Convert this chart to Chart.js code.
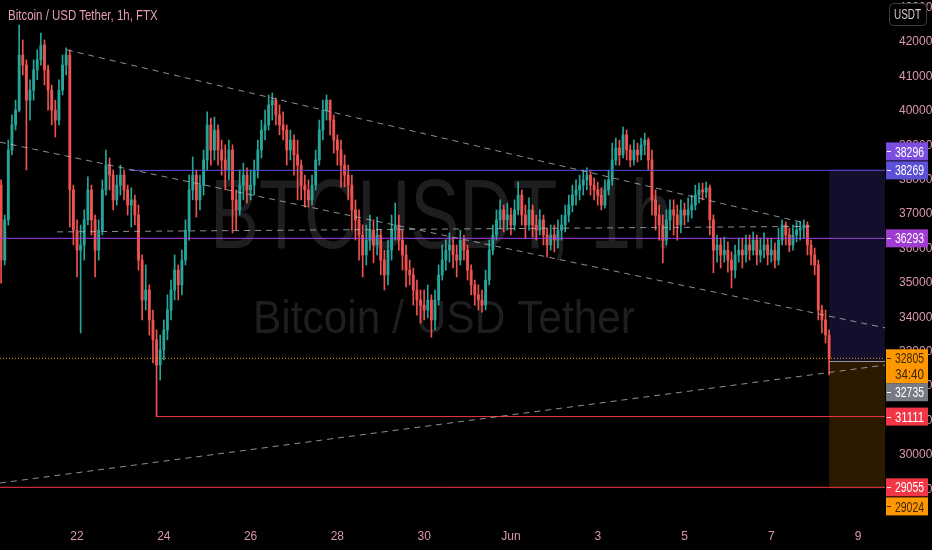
<!DOCTYPE html>
<html>
<head>
<meta charset="utf-8">
<script src="https://cdn.jsdelivr.net/npm/chart.js@4.4.1/dist/chart.umd.min.js"></script>
<style>
  html, body { margin: 0; padding: 0; background: #000; }
  #wrap { position: relative; width: 932px; height: 550px; }
  #title {
    position: absolute; left: 8px; top: 7px;
    font: 14px 'Liberation Sans Narrow', 'Liberation Sans', sans-serif;
    color: #e59cba;
    transform: scaleX(0.82); transform-origin: left top;
    white-space: nowrap;
  }
</style>
</head>
<body>
<div id="wrap">
  <canvas id="chart" width="932" height="550"></canvas>
  <div id="title">Bitcoin / USD Tether, 1h, FTX</div>
</div>
<script>
// time is counted in hours from May 20 00:00, one candle every 2 hours
const startHour = 6;
const stepHours = 2;
const firstOpen = 37840;

const closes = [
  35660, 36830, 38860, 39590, 40020, 41620, 41330, 40310, 40600, 41190,
  41480, 41910, 41190, 40600, 40020, 39730, 40600, 41330, 41620, 37700,
  36530, 35950, 36100, 36830, 37700, 36830, 35950, 36530, 37700, 38420,
  38130, 37410, 37840, 38130, 37700, 37260, 37410, 36970, 35660, 34500,
  34790, 33920, 33340, 32610, 33050, 33630, 34210, 34790, 35370, 34940,
  35660, 36530, 37700, 38130, 37410, 37840, 38570, 39590, 38860, 39440,
  38860, 38570, 38280, 38860, 37410, 37120, 37840, 38130, 37700, 37840,
  38280, 38860, 39440, 39590, 40170, 40310, 39880, 39590, 39440, 38860,
  39150, 38720, 38420, 37840, 37700, 37410, 37840, 38570, 39440, 40020,
  40310, 39730, 39150, 38860, 38420, 38130, 37840, 37120, 36830, 36390,
  35810, 36240, 36530, 36100, 36390, 35660, 35230, 35950, 36530, 36680,
  36240, 35810, 35370, 35230, 34790, 34500, 34350, 34210, 34500, 33920,
  34500, 35230, 35660, 35950, 36100, 35810, 35660, 36240, 35950, 35370,
  34940, 34650, 34500, 34350, 35080, 35950, 36390, 36830, 37120, 36830,
  36970, 36680, 37120, 37550, 36970, 36680, 37120, 36680, 36530, 36830,
  36390, 36100, 36390, 36240, 36530, 36680, 36970, 37260, 37550, 37700,
  37840, 37990, 38130, 37840, 37700, 37550, 37260, 37700, 37990, 38570,
  38920, 38720, 39300, 38860, 38570, 38860, 38720, 39010, 39150, 38570,
  37410, 36970, 36680, 36240, 36830, 37120, 36970, 36680, 37120, 36970,
  37120, 37260, 37550, 37700, 37640, 37760, 36830, 35950, 36100, 35810,
  35950, 35660, 35370, 35810, 35950, 35810, 36100, 35950, 36240, 35810,
  35950, 36100, 35810, 35950, 35660, 36240, 36680, 36390, 36100, 36390,
  36530, 36590, 36680, 36100, 35810, 35520, 34210, 33920, 33480, 32805
];

const highs = [
  37990, 36970, 39150, 39880, 40310, 42490, 42060, 41480, 40900, 41480,
  41770, 42260, 42060, 41330, 40750, 40310, 40900, 41620, 41830, 41770,
  37840, 36830, 36680, 37120, 38080, 37840, 36970, 36830, 37990, 38860,
  38630, 38280, 38130, 38420, 38280, 37840, 37760, 37550, 37260, 35810,
  35520, 34940, 34210, 33630, 33480, 33920, 34650, 35080, 35810, 35520,
  35950, 36830, 38130, 38660, 38280, 38130, 38860, 39970, 39790, 39820,
  39590, 39150, 39010, 39150, 39010, 37700, 38280, 38480, 38340, 38280,
  38570, 39150, 39730, 40020, 40460, 40520, 40370, 40170, 39970, 39590,
  39440, 39300, 39150, 38570, 38130, 37990, 38130, 38860, 39730, 40310,
  40460, 40310, 39880, 39300, 39150, 38720, 38420, 38130, 37410, 37120,
  36680, 36680, 36970, 36830, 36910, 36530, 35950, 36240, 36970, 37320,
  36970, 36530, 36100, 35660, 35430, 35080, 34790, 34790, 34940, 34650,
  34790, 35520, 36100, 36240, 36450, 36300, 36100, 36530, 36390, 36100,
  35520, 35080, 34940, 34790, 35370, 36240, 36680, 37120, 37410, 37260,
  37320, 37170, 37410, 37930, 37700, 37260, 37470, 37260, 36970, 37120,
  36970, 36590, 36680, 36680, 36830, 36970, 37260, 37550, 37840, 37990,
  38130, 38280, 38340, 38280, 38050, 37930, 37760, 37990, 38280, 39060,
  39210, 39150, 39530, 39440, 39010, 39150, 39060, 39210, 39350, 39210,
  38860, 37700, 37260, 36970, 37120, 37410, 37410, 37260, 37410, 37320,
  37470, 37550, 37840, 37900, 37900, 37930, 37840, 36970, 36390, 36300,
  36330, 36190, 35900, 36100, 36300, 36300, 36390, 36390, 36480, 36390,
  36300, 36450, 36300, 36300, 36160, 36590, 36830, 36770, 36590, 36680,
  36770, 36770, 36830, 36770, 36240, 36010, 35660, 34350, 34210, 33630
];

const lows = [
  34990, 35520, 36680, 38720, 39440, 39970, 41040, 38280, 39730, 40310,
  40900, 41330, 40750, 40020, 39590, 39240, 39590, 40460, 41040, 36620,
  36100, 35170, 33540, 35660, 36680, 36390, 35170, 35660, 36390, 37550,
  37700, 37120, 37260, 37550, 37410, 36970, 36620, 36680, 35370, 33920,
  34210, 33480, 32670, 31111, 32170, 32760, 33340, 33920, 34500, 34500,
  34650, 35520, 36240, 37410, 36910, 37120, 37550, 38280, 38420, 38570,
  38420, 38130, 37700, 37990, 36450, 36530, 36970, 37410, 37320, 37410,
  37550, 38050, 38630, 39150, 39440, 39730, 39590, 39300, 39150, 38420,
  38570, 38130, 37410, 37410, 37200, 37200, 37260, 37700, 38420, 39150,
  39730, 39300, 38770, 38420, 37790, 37790, 37410, 36530, 36240, 35660,
  35170, 35520, 35950, 35580, 35810, 35230, 34790, 34940, 35660, 36240,
  35950, 35370, 34880, 34940, 34350, 34060, 33830, 33920, 33980, 33420,
  33630, 34350, 35080, 35370, 35600, 35430, 35170, 35520, 35660, 35080,
  34650, 34350, 34210, 34150, 34210, 34940, 35810, 36240, 36590, 36480,
  36530, 36390, 36530, 36970, 36680, 36300, 36530, 36330, 36240, 36390,
  36100, 35750, 35950, 35900, 36010, 36240, 36480, 36770, 37060, 37260,
  37410, 37550, 37700, 37550, 37410, 37260, 37120, 37170, 37550, 37840,
  38420, 38420, 38630, 38570, 38370, 38420, 38510, 38570, 38720, 38280,
  36970, 36530, 36240, 35580, 36100, 36530, 36390, 36240, 36450, 36680,
  36770, 36880, 37120, 37320, 37410, 37470, 36390, 35290, 35600, 35430,
  35600, 35310, 34850, 35140, 35600, 35430, 35600, 35660, 35810, 35520,
  35600, 35720, 35520, 35600, 35430, 35520, 36100, 36100, 35900, 35950,
  36190, 36240, 36300, 35810, 35520, 35230, 33920, 33540, 33250, 32320
];

// axes
const xMin = 5.4;
const xMax = 494.9;
const yMin = 28105;
const yMax = 43221;
const xTickHours = [48, 96, 144, 192, 240, 288, 336, 384, 432, 480];
const xTickLabels = ['22', '24', '26', '28', '30', 'Jun', '3', '5', '7', '9'];
const yTicks = [29000, 30000, 31000, 32000, 33000, 34000, 35000, 36000,
                37000, 38000, 39000, 40000, 41000, 42000, 43000];

// drawings
const levelBlue = 38269, levelBlueFrom = 77;
const levelMagenta = 36293;
const levelSupport = 31111, levelSupportFrom = 92;
const levelLow = 29055;
const lastPrice = 32805;
const countdown = '34:40';
const posStart = 464, posTop = 38296, posEntry = 32735, posBottom = 29024;

const upperTrendX = [42.4, 450.6],  upperTrendY = [41770, 36740];
const midTrendX   = [5.4, 494.9],   midTrendY   = [39090, 33690];
const flatTrendX  = [37.0, 453.4],  flatTrendY  = [36480, 36640];
const lowTrendX   = [5.4, 494.9],   lowTrendY   = [29180, 32610];

const UP = '#26a69a', DOWN = '#ef5350';
const FONT = "'Liberation Sans Narrow', 'Liberation Sans', sans-serif";
const TEXT = '#d996b0';

const opens = [firstOpen].concat(closes.slice(0, -1));
const hours = closes.map((c, i) => startHour + i * stepHours);
const candleColors = closes.map((c, i) => c >= opens[i] ? UP : DOWN);

function pts(xs, ys) { return xs.map((v, i) => ({x: v, y: ys[i]})); }

function line(data, color, dash) {
  return {
    type: 'line', data: data, borderColor: color, borderWidth: 1,
    borderDash: dash || [], pointRadius: 0, order: 0, tension: 0
  };
}

// draw text squeezed to a given width (no narrow font installed)
function fitText(ctx, text, x, y, size, width) {
  ctx.font = size + 'px ' + FONT;
  const w = ctx.measureText(text).width;
  ctx.save();
  ctx.translate(x, y);
  ctx.scale(width / w, 1);
  ctx.fillText(text, 0, 0);
  ctx.restore();
}

const tags = [
  {value: posTop, text: '38296', bg: '#7b4ee0', fg: '#ffffff', dy: -18},
  {value: levelBlue, text: '38269', bg: '#5c50d6', fg: '#ffffff', dy: 0},
  {value: levelMagenta, text: '36293', bg: '#a03bd2', fg: '#ffffff', dy: 0},
  {value: lastPrice, text: '32805', sub: countdown, bg: '#ff9800', fg: '#3a2600', dy: 0},
  {value: posEntry, text: '32735', bg: '#787b86', fg: '#ffffff', dy: 31.5},
  {value: levelSupport, text: '31111', bg: '#f23645', fg: '#ffffff', dy: 0},
  {value: levelLow, text: '29055', bg: '#f23645', fg: '#ffffff', dy: 0},
  {value: posBottom, text: '29024', bg: '#ff9800', fg: '#3a2600', dy: 18}
];

const overlay = {
  id: 'overlay',
  beforeDatasetsDraw(chart) {
    const {ctx, chartArea: a, scales: {x, y}} = chart;
    ctx.save();
    ctx.fillStyle = '#1e1e21';
    ctx.textBaseline = 'alphabetic';
    ctx.textAlign = 'left';
    fitText(ctx, 'BTCUSDT, 1h', 210, 248, 99, 462);
    fitText(ctx, 'Bitcoin / USD Tether', 253, 333, 46, 382);

    // position box
    const x0 = x.getPixelForValue(posStart);
    const yT = y.getPixelForValue(posTop);
    const yE = y.getPixelForValue(posEntry);
    const yB = y.getPixelForValue(posBottom);
    ctx.fillStyle = 'rgba(92,70,220,0.2)';
    ctx.fillRect(x0, yT, a.right - x0, yE - yT);
    ctx.fillStyle = 'rgba(255,152,0,0.17)';
    ctx.fillRect(x0, yE, a.right - x0, yB - yE);
    ctx.strokeStyle = '#9598a1';
    ctx.lineWidth = 1;
    ctx.beginPath();
    ctx.moveTo(x0, Math.round(yE) + 0.5);
    ctx.lineTo(a.right, Math.round(yE) + 0.5);
    ctx.stroke();
    ctx.restore();
  },
  afterDraw(chart) {
    const {ctx, chartArea: a, scales: {y}} = chart;
    ctx.save();
    const bx = a.right + 1, bw = 42;
    ctx.textBaseline = 'middle';
    ctx.textAlign = 'left';
    tags.forEach(t => {
      const py = y.getPixelForValue(t.value) + t.dy;
      const h = t.sub ? 34 : 18;
      const top = py - 9;
      ctx.fillStyle = t.bg;
      ctx.fillRect(bx, top, bw, h);
      ctx.strokeStyle = t.fg;
      ctx.lineWidth = 1;
      ctx.beginPath();
      ctx.moveTo(bx + 1, Math.round(py) + 0.5);
      ctx.lineTo(bx + 5, Math.round(py) + 0.5);
      ctx.stroke();
      ctx.fillStyle = t.fg;
      fitText(ctx, t.text, bx + 9, py + 1, 15, 29);
      if (t.sub) fitText(ctx, t.sub, bx + 9, py + 17, 15, 29);
    });

    // currency badge
    const ux = a.right + 4, uy = 3, uw = 37, uh = 22;
    ctx.fillStyle = '#000';
    ctx.strokeStyle = '#3a3d48';
    ctx.beginPath();
    ctx.roundRect(ux + 0.5, uy + 0.5, uw, uh, 4);
    ctx.fill();
    ctx.stroke();
    ctx.fillStyle = '#d7c9d0';
    fitText(ctx, 'USDT', ux + 5, uy + uh / 2 + 1, 14, 27);
    ctx.restore();
  }
};

const data = {
  datasets: [
    line(pts(upperTrendX, upperTrendY), 'rgba(175,178,188,0.8)', [6, 5]),
    line(pts(midTrendX, midTrendY), 'rgba(175,178,188,0.8)', [6, 5]),
    line(pts(flatTrendX, flatTrendY), 'rgba(175,178,188,0.8)', [6, 5]),
    line(pts(lowTrendX, lowTrendY), 'rgba(175,178,188,0.8)', [6, 5]),
    line(pts([levelBlueFrom, xMax], [levelBlue, levelBlue]), '#5b4fd0'),
    line(pts([xMin, xMax], [levelMagenta, levelMagenta]), '#a83fd8'),
    line(pts([levelSupportFrom, xMax], [levelSupport, levelSupport]), '#f23645'),
    line(pts([xMin, xMax], [levelLow, levelLow]), '#f23645'),
    line(pts([xMin, xMax], [lastPrice, lastPrice]), '#ff9800', [1, 2]),
    {
      type: 'bar',
      data: hours.map((h, i) => ({x: h, y: [lows[i], highs[i]]})),
      backgroundColor: candleColors,
      barThickness: 1,
      grouped: false,
      order: 2
    },
    {
      type: 'bar',
      data: hours.map((h, i) => ({x: h, y: [Math.min(opens[i], closes[i]), Math.max(opens[i], closes[i])]})),
      backgroundColor: candleColors,
      barThickness: 2.2,
      minBarLength: 1,
      grouped: false,
      order: 1
    }
  ]
};

const config = {
  type: 'bar',
  data: data,
  plugins: [overlay],
  options: {
    responsive: false,
    animation: false,
    layout: { padding: 0 },
    plugins: {
      legend: { display: false },
      tooltip: { enabled: false },
      title: { display: false }
    },
    scales: {
      x: {
        type: 'linear',
        min: xMin,
        max: xMax,
        offset: false,
        grid: { display: false },
        border: { display: false },
        afterBuildTicks: (s) => { s.ticks = xTickHours.map(v => ({value: v})); },
        afterFit: (s) => { s.height = 30; s.paddingLeft = 0; s.paddingRight = 0; },
        ticks: {
          color: TEXT,
          font: { family: FONT, size: 12 },
          padding: 1,
          maxRotation: 0,
          autoSkip: false,
          callback: (v, i) => xTickLabels[i]
        }
      },
      y: {
        type: 'linear',
        position: 'right',
        min: yMin,
        max: yMax,
        grid: { display: false },
        border: { display: false },
        afterBuildTicks: (s) => { s.ticks = yTicks.map(v => ({value: v})); },
        afterFit: (s) => { s.width = 47; s.paddingTop = 0; s.paddingBottom = 0; },
        ticks: {
          color: TEXT,
          font: { family: FONT, size: 12 },
          padding: 6,
          autoSkip: false,
          callback: (v) => String(v)
        }
      }
    }
  }
};

let chart = new Chart(document.getElementById('chart'), config);
</script>
</body>
</html>
